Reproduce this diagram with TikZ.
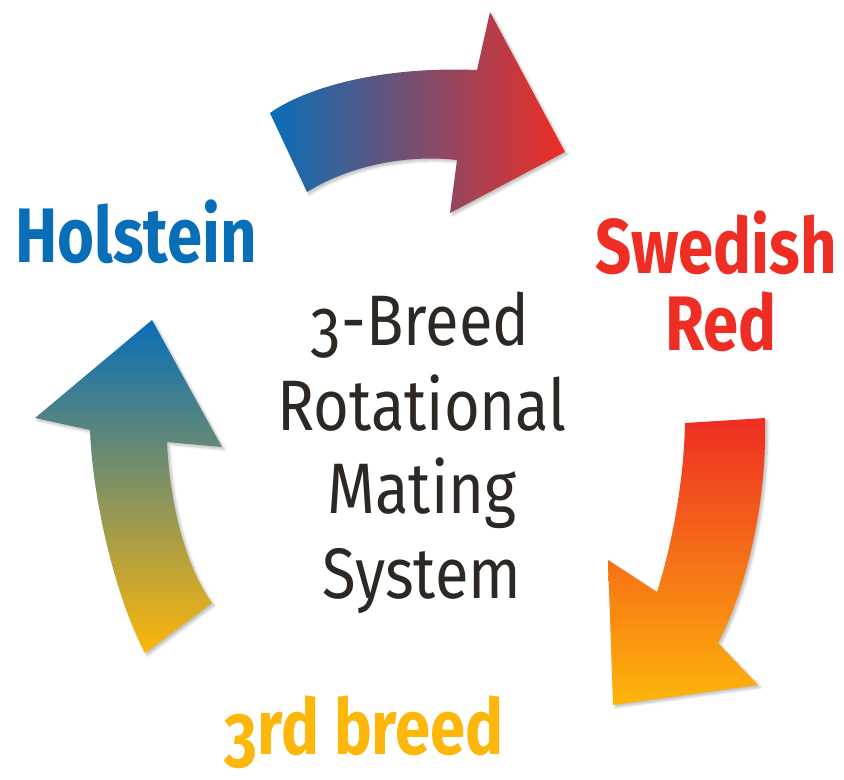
\documentclass[tikz,border=0pt]{standalone}
\usepackage{fontspec}
\setmainfont{Fira Sans}
\usetikzlibrary{shadows.blur}
\definecolor{hblue}{RGB}{8,110,184}
\definecolor{sred}{RGB}{238,45,36}
\definecolor{byel}{RGB}{253,182,10}
\definecolor{aorange}{RGB}{247,125,10}
\definecolor{agray}{RGB}{112,128,142}
\definecolor{ctext}{RGB}{45,40,36}
\newcommand{\oldthree}{\raisebox{-0.17em}{3}}
\tikzset{
  arrowshape/.style={draw=none, blur shadow={shadow xshift=2pt, shadow yshift=-2pt, shadow blur steps=6, shadow opacity=25}},
  lbl/.style={anchor=base, inner sep=0pt, font=\fontsize{66}{70}\selectfont\bfseries},
  ctr/.style={anchor=base, inner sep=0pt, text=ctext, font=\fontsize{61}{70}\selectfont}
}
\begin{document}
\begin{tikzpicture}[x=0.03cm,y=-0.03cm]
\useasboundingbox (0,0) rectangle (844,779);
% top arrow
\path[arrowshape, left color=hblue, right color=sred]
  (270,113) .. controls (305,88) and (380,66) .. (477,70)
  -- (490,12) -- (565,152) -- (450,213) -- (457,160)
  .. controls (415,155) and (355,162) .. (307,192) -- cycle;
% right arrow
\path[arrowshape, top color=sred, middle color=aorange, bottom color=byel]
  (685,423) -- (765,418) .. controls (767,500) and (748,585) .. (718,643)
  -- (758,685) -- (613,705) -- (608,560) -- (657,592)
  .. controls (672,545) and (684,480) .. cycle;
% left arrow
\path[arrowshape, top color=hblue, middle color=agray, bottom color=byel]
  (152,320) -- (222,447) -- (167,442)
  .. controls (170,510) and (188,570) .. (212,603)
  -- (145,653) .. controls (112,590) and (92,490) .. (90,430)
  -- (35,418) -- cycle;
% labels
\node[lbl, text=hblue] (hol) at (136,262) {\scalebox{0.82}[1]{Holstein}};
\node[lbl, text=sred] (swe) at (716,273) {\scalebox{0.82}[1]{Swedish}};
\node[lbl, text=sred] (red) at (721,350) {\scalebox{0.82}[1]{Red}};
\node[lbl, text=byel] (third) at (364,754) {\scalebox{0.82}[1]{\oldthree rd breed}};
% centre
\node[ctr] (c1) at (420,345) {\scalebox{0.86}[1]{\oldthree-Breed}};
\node[ctr] (c2) at (422,430) {\scalebox{0.86}[1]{Rotational}};
\node[ctr] (c3) at (422,513) {\scalebox{0.86}[1]{Mating}};
\node[ctr] (c4) at (422,598) {\scalebox{0.86}[1]{System}};
\end{tikzpicture}
\end{document}
